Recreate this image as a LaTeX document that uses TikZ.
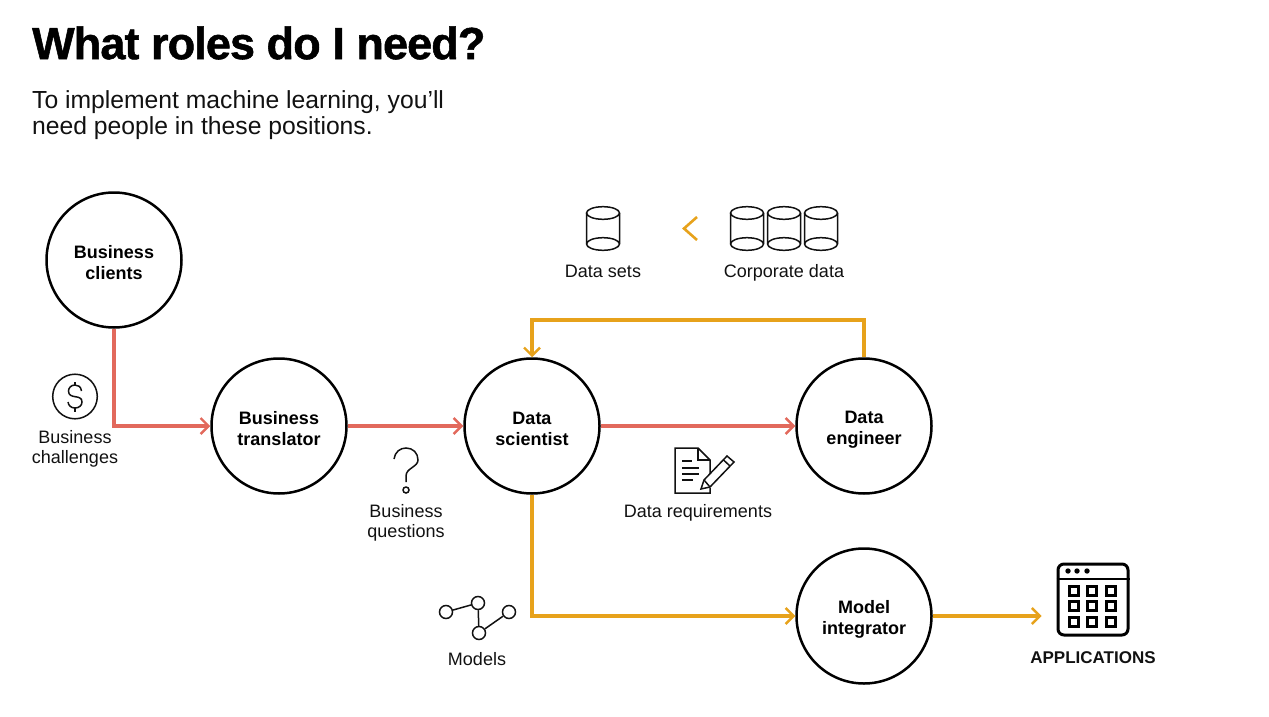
\documentclass[tikz,border=0pt]{standalone}
\usepackage{xcolor}
\usepackage{fontspec}
\setmainfont{Liberation Sans}
\newfontfamily\titlefont[LetterSpace=-2,BoldFeatures={FakeBold=1.2}]{Liberation Sans}
\usetikzlibrary{positioning}
\usetikzlibrary{arrows.meta}
\usetikzlibrary{math}
\usetikzlibrary{calc}

\definecolor{linkred}{HTML}{E2695C}
\definecolor{linkorange}{HTML}{E7A21B}
\definecolor{inkblack}{HTML}{111111}

\newcommand{\rolestrut}{\rule[-1.5pt]{0pt}{21pt}}

\tikzset{
  role/.style={circle, draw=black, line width=2.5pt, minimum size=135pt, inner sep=0pt,
    align=center, font=\fontsize{18}{21}\selectfont\bfseries},
  caption/.style={align=center, inner sep=0pt, text=inkblack, font=\fontsize{18}{20}\selectfont},
  icon/.style={draw=inkblack, line width=1.5pt},
  redlink/.style={draw=linkred, line width=3.6pt, -{Straight Barb[length=8pt,width=16pt,line width=2.4pt]}},
  orangelink/.style={draw=linkorange, line width=3.6pt, -{Straight Barb[length=8pt,width=16pt,line width=2.4pt]}},
  modeldot/.style={circle, icon, minimum size=13pt, inner sep=0pt},
  appcell/.style={draw=black, line width=3pt, minimum size=8.5pt, inner sep=0pt},
  pics/datacan/.style={code={
    \draw[icon] (-16.5,-15.5) -- (-16.5,15.5) arc (180:360:16.5 and -6.3) -- (16.5,-15.5);
    \draw[icon] (0,-15.5) ellipse (16.5 and 6.3);
    \draw[icon] (-16.5,15.5) arc (180:0:16.5 and -6.3);
  }},
}

\begin{document}
\begin{tikzpicture}[x=1pt,y=-1pt]

  \useasboundingbox (0,0) rectangle (1269,717);

  % Heading
  \node[anchor=west, inner sep=0pt, font=\fontsize{45}{50}\selectfont\titlefont\bfseries] (title) at (32,43) {What roles do I need?};
  \node[anchor=north west, inner sep=0pt, align=left, text=inkblack, font=\fontsize{24.7}{26.5}\selectfont] (intro) at (32,90)
    {To implement machine learning, you'll\\need people in these positions.};

  % Roles
  \node[role] (clients)    at (114,260) {\rolestrut Business\\\rolestrut clients};
  \node[role] (translator) at (279,426) {\rolestrut Business\\\rolestrut translator};
  \node[role] (scientist)  at (532,426) {\rolestrut Data\\\rolestrut scientist};
  \node[role] (engineer)   at (864,426) {\rolestrut Data\\\rolestrut engineer};
  \node[role] (integrator) at (864,616) {\rolestrut Model\\\rolestrut integrator};

  % Applications window
  \node[draw=black, line width=3pt, rounded corners=6pt, minimum width=70pt, minimum height=71pt, inner sep=0pt] (apps) at (1093,599.5) {};
  \draw[black, line width=2.6pt] (apps.west |- 0,579) -- (apps.east |- 0,579);
  \foreach \x in {1068,1077,1087} \fill[black] (\x,571) circle (2.7);
  \foreach \x in {1074,1092,1111} {
    \foreach \y in {591,606,622} {
      \node[appcell] at (\x,\y) {};
    }
  }
  \node[caption, font=\fontsize{17}{20}\selectfont\bfseries] (appstext) at (1093,658) {APPLICATIONS};

  % Links
  \draw[redlink] (clients.south) |- (translator.west);
  \draw[redlink] (translator.east) -- (scientist.west);
  \draw[redlink] (scientist.east) -- (engineer.west);
  \draw[orangelink] (engineer.north) -- ++(0,-37) -| (scientist.north);
  \draw[orangelink] (scientist.south) |- (integrator.west);
  \draw[orangelink, shorten >=15pt] (integrator.east) -- (integrator.east -| apps.west);

  % Data stores
  \pic at (603,228.5) {datacan};
  \pic at (747,228.5) {datacan};
  \pic at (784,228.5) {datacan};
  \pic at (821,228.5) {datacan};
  \draw[linkorange, line width=2.6pt] (697,217) -- (684,228.5) -- (697,240);
  \node[caption] (datasets) at (603,271) {Data sets};
  \node[caption] (corporate) at (784,273) {Corporate data};

  % Dollar icon
  \draw[icon] (75,396.5) circle (22.3);
  \draw[icon] (81.5,391) .. controls (81,386.5) and (78,385) .. (75,385)
    .. controls (71,385) and (68.5,388) .. (68.5,391)
    .. controls (68.5,400) and (82,393.5) .. (82,402)
    .. controls (82,405.5) and (79,408) .. (75,408)
    .. controls (71,408) and (68.5,405.5) .. (68,402);
  \draw[icon] (75,382) -- (75,385);
  \draw[icon] (75,408) -- (75,411.5);
  \node[caption] (challenges) at (75,449) {Business\\challenges};

  % Question mark
  \draw[icon] (394,459) .. controls (395,452) and (400,448) .. (406,448)
    .. controls (413,448) and (418,453) .. (418,460)
    .. controls (418,467) and (406,468) .. (406,476) -- (406,482);
  \draw[icon] (406,490) circle (3);
  \node[caption] (questions) at (406,523) {Business\\questions};

  % Document and pencil
  \draw[icon] (710,475) -- (710,460) -- (698,448) -- (675,448) -- (675,493) -- (710,493) -- (710,488);
  \draw[icon] (698,448) -- (698,460) -- (710,460);
  \foreach \y/\xend in {461/692,468/699,474/699,480/693} {
    \draw[icon] (682,\y) -- (\xend,\y);
  }
  \draw[icon, fill=white] (701,489) -- (704,480) -- (727,456) -- (734,462) -- (710,487) -- cycle;
  \draw[icon] (704,480) -- (710,487);
  \draw[icon] (723,459.5) -- (730,466);
  \node[caption] (requirements) at (698,513) {Data requirements};

  % Model graph
  \node[modeldot] (m1) at (446,612) {};
  \node[modeldot] (m2) at (478,603) {};
  \node[modeldot] (m3) at (479,633) {};
  \node[modeldot] (m4) at (509,612) {};
  \draw[icon] (m1) -- (m2);
  \draw[icon] (m2) -- (m3);
  \draw[icon] (m3) -- (m4);
  \node[caption] (models) at (477,659) {Models};

\end{tikzpicture}
\end{document}
